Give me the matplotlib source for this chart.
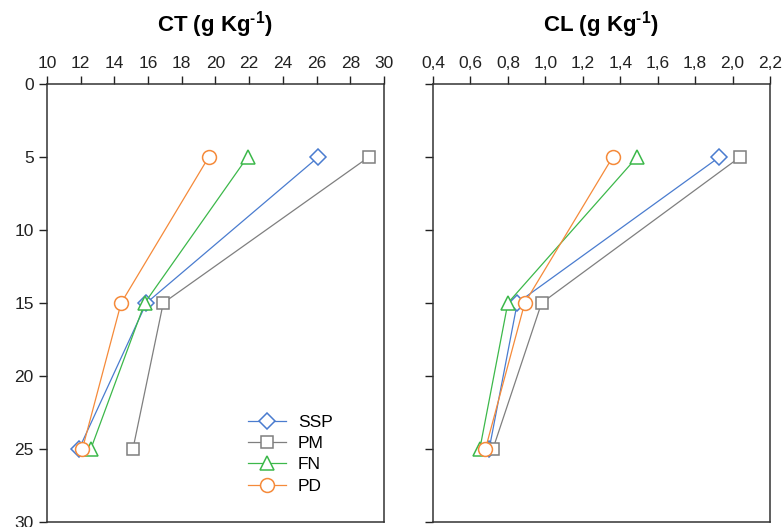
import matplotlib
matplotlib.use("Agg")
import matplotlib.pyplot as plt
from matplotlib.ticker import FuncFormatter

plt.rcParams['font.family'] = ['Liberation Sans', 'DejaVu Sans']
plt.rcParams['mathtext.fontset'] = 'custom'
plt.rcParams['mathtext.rm'] = 'Liberation Sans:bold'
plt.rcParams['mathtext.bf'] = 'Liberation Sans:bold'

#%% data
depth = [5, 15, 25]
series = ['SSP', 'PM', 'FN', 'PD']

ct_ssp = [26.1, 15.9, 11.9]
ct_pm = [29.1, 16.9, 15.1]
ct_fn = [21.9, 15.8, 12.6]
ct_pd = [19.6, 14.4, 12.1]

cl_ssp = [1.93, 0.85, 0.70]
cl_pm = [2.04, 0.98, 0.72]
cl_fn = [1.49, 0.80, 0.65]
cl_pd = [1.36, 0.89, 0.68]

ct_ticks = list(range(10, 31, 2))
cl_ticks = [0.4, 0.6, 0.8, 1.0, 1.2, 1.4, 1.6, 1.8, 2.0, 2.2]
depth_ticks = [0, 5, 10, 15, 20, 25, 30]

#%% styles
styles = {
    'SSP': dict(color='#4a7ccf', marker='D', ms=8.5),
    'PM': dict(color='#7f7f7f', marker='s', ms=9),
    'FN': dict(color='#3cb84a', marker='^', ms=10),
    'PD': dict(color='#f58a3a', marker='o', ms=10),
}

fig = plt.figure(figsize=(7.82, 5.27), dpi=100)
ax1 = fig.add_axes([47/782, 1-522/527, 337/782, 438/527])
ax2 = fig.add_axes([433/782, 1-522/527, 337/782, 438/527])

ct_data = {'SSP': ct_ssp, 'PM': ct_pm, 'FN': ct_fn, 'PD': ct_pd}
cl_data = {'SSP': cl_ssp, 'PM': cl_pm, 'FN': cl_fn, 'PD': cl_pd}

for name in series:
    st = styles[name]
    ax1.plot(ct_data[name], depth, color=st['color'], lw=0.9, marker=st['marker'],
             ms=st['ms'], mfc='white', mec=st['color'], mew=1.1, label=name)
    ax2.plot(cl_data[name], depth, color=st['color'], lw=0.9, marker=st['marker'],
             ms=st['ms'], mfc='white', mec=st['color'], mew=1.1, label=name)

for ax in (ax1, ax2):
    ax.set_ylim(30, 0)
    ax.set_yticks(depth_ticks)
    ax.xaxis.tick_top()
    ax.tick_params(axis='both', direction='out', length=6, width=1, labelsize=12.5,
                   colors='#222222')
    ax.tick_params(axis='x', pad=3)
    for sp in ax.spines.values():
        sp.set_color('#333333')
        sp.set_linewidth(1.1)

ax1.set_xlim(10, 30)
ax1.set_xticks(ct_ticks)

ax2.set_xlim(0.4, 2.2)
ax2.set_xticks(cl_ticks)
ax2.xaxis.set_major_formatter(FuncFormatter(lambda v, p: ('%.1f' % v).replace('.', ',')))
ax2.set_yticklabels([])

ax1.legend(loc='lower left', bbox_to_anchor=(0.57, 0.045), frameon=False, fontsize=12.5,
           handlelength=2.2, labelspacing=0.35, borderpad=0, handletextpad=0.7)

fig.text(215/782, 1-25/527, r'CT (g Kg$^{\text{-1}}$)', ha='center', va='center',
         fontsize=16, fontweight='bold')
fig.text(601/782, 1-25/527, r'CL (g Kg$^{\text{-1}}$)', ha='center', va='center',
         fontsize=16, fontweight='bold')

fig.savefig('out.png', dpi=100)
